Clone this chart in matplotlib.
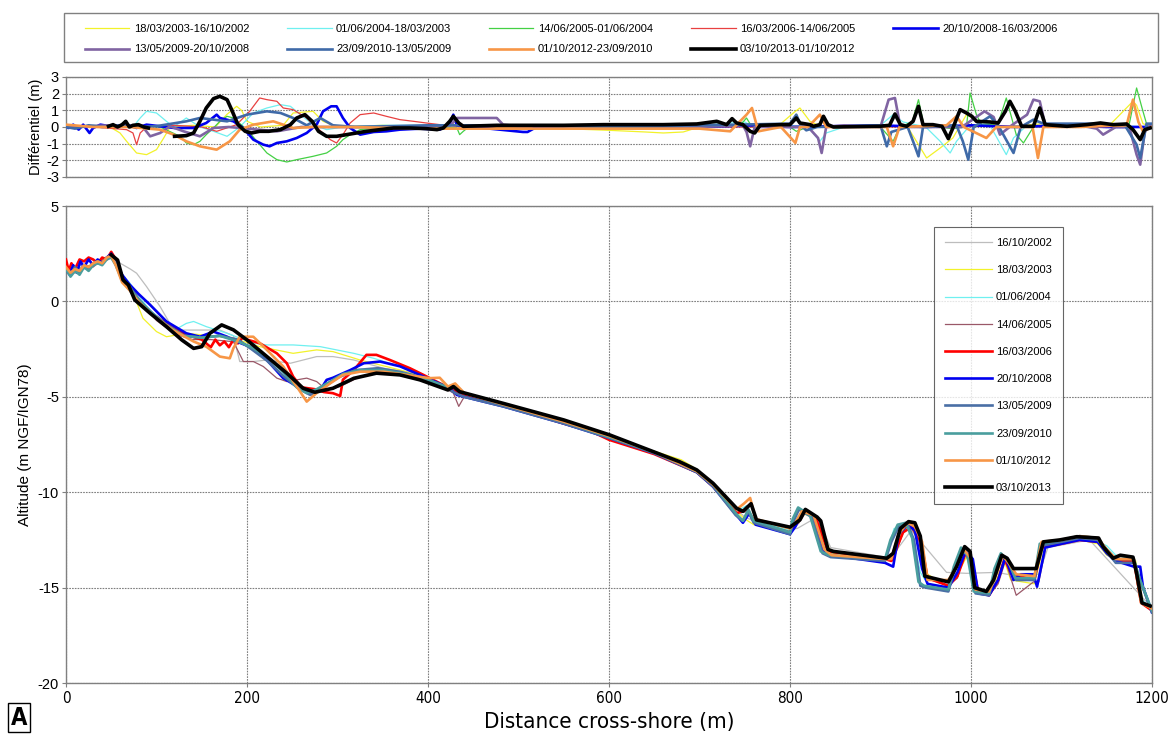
import matplotlib
matplotlib.use("Agg")
import matplotlib.pyplot as plt
from matplotlib.patches import Rectangle
import numpy as np

plt.rcParams["font.family"] = ["Liberation Sans", "DejaVu Sans"]
plt.rcParams["axes.unicode_minus"] = False
NARROW = dict(family="DejaVu Sans", stretch="condensed")
nan = np.nan

# ---------------- profiles (distance m, altitude m NGF/IGN78) ----------------
P2002_X = [0, 8, 16, 24, 32, 40, 50, 60, 71, 78, 89, 104, 119, 133, 148, 170, 185, 192, 207, 222, 248, 277, 295, 318, 351, 387, 422, 435, 483, 550, 600, 678, 697, 715, 741, 750, 760, 800, 808, 830, 845, 905, 912, 934, 973, 995, 1029, 1040, 1075, 1085, 1131, 1192, 1200]
P2002_Z = [1.8, 1.6, 1.9, 1.7, 2.0, 2.1, 2.4, 2.0, 1.7, 1.48, 0.78, -0.27, -1.5, -1.5, -1.5, -1.5, -1.8, -3.15, -3.15, -3.07, -3.24, -2.89, -2.89, -3.07, -3.5, -3.76, -4.46, -4.9, -5.45, -6.3, -7.05, -8.45, -8.9, -9.6, -10.9, -11.3, -11.5, -11.95, -11.9, -11.3, -12.9, -13.4, -13.4, -12.0, -14.2, -14.25, -14.2, -14.3, -14.3, -12.9, -12.5, -15.65, -16.0]

P2003_X = [0, 10, 20, 30, 40, 50, 58, 66, 76, 85, 100, 111, 133, 160, 185, 214, 251, 277, 295, 325, 369, 406, 425, 440, 483, 550, 600, 650, 680, 697, 715, 741, 750, 760, 800, 806, 812, 826, 838, 846, 905, 912, 925, 935, 944, 952, 975, 985, 995, 1000, 1008, 1020, 1030, 1036, 1044, 1070, 1080, 1098, 1120, 1140, 1150, 1160, 1182, 1190, 1200]
P2003_Z = [1.7, 1.5, 1.8, 1.9, 2.1, 2.4, 1.6, 1.2, 0.2, -0.88, -1.58, -1.85, -1.67, -1.8, -1.93, -2.37, -2.72, -2.54, -2.63, -3.07, -3.59, -4.11, -4.5, -4.8, -5.5, -6.35, -7.1, -7.85, -8.3, -8.8, -9.6, -11.0, -11.4, -11.7, -12.1, -11.6, -11.1, -11.3, -12.4, -13.2, -13.6, -13.4, -12.0, -11.7, -12.6, -14.3, -14.95, -14.3, -13.4, -14.1, -15.2, -15.3, -14.4, -13.5, -14.6, -14.8, -12.9, -12.6, -12.5, -12.7, -13.3, -13.5, -13.6, -15.8, -16.2]

P2004_X = [0, 10, 20, 30, 40, 50, 60, 70, 80, 100, 120, 133, 141, 155, 178, 207, 222, 251, 281, 318, 340, 369, 406, 425, 440, 483, 550, 600, 650, 697, 715, 741, 752, 760, 800, 808, 815, 828, 840, 905, 915, 928, 937, 944, 952, 975, 985, 994, 1000, 1008, 1020, 1030, 1037, 1045, 1070, 1080, 1100, 1120, 1140, 1150, 1160, 1180, 1188, 1200]
P2004_Z = [1.9, 1.6, 1.7, 2.0, 2.2, 2.4, 1.5, 1.0, 0.3, -0.9, -1.5, -1.15, -1.05, -1.32, -1.67, -2.19, -2.28, -2.28, -2.37, -2.72, -2.98, -3.41, -4.11, -4.5, -4.85, -5.45, -6.3, -7.1, -7.9, -8.85, -9.6, -11.0, -10.7, -11.5, -12.0, -11.3, -10.9, -11.2, -13.2, -13.6, -11.9, -11.8, -12.5, -14.2, -14.8, -15.0, -14.2, -13.0, -13.4, -15.2, -15.3, -14.5, -13.4, -14.2, -14.5, -12.8, -12.6, -12.5, -12.6, -12.8, -13.3, -13.5, -15.6, -16.1]

P2005_X = [0, 10, 20, 30, 40, 50, 60, 70, 80, 100, 120, 140, 160, 185, 196, 207, 218, 233, 244, 266, 277, 288, 303, 325, 350, 380, 410, 428, 434, 440, 483, 550, 600, 650, 697, 715, 741, 755, 762, 800, 810, 818, 830, 842, 905, 914, 925, 933, 942, 950, 975, 985, 993, 1000, 1008, 1020, 1030, 1038, 1050, 1069, 1075, 1083, 1100, 1120, 1140, 1150, 1160, 1180, 1188, 1200]
P2005_Z = [1.8, 1.5, 1.9, 1.8, 2.2, 2.4, 1.3, 0.9, 0.2, -1.0, -1.7, -2.0, -2.0, -2.11, -3.15, -3.15, -3.41, -4.02, -4.2, -4.02, -4.2, -4.64, -4.46, -3.94, -3.7, -3.9, -4.3, -4.8, -5.5, -5.0, -5.5, -6.35, -7.1, -7.9, -8.85, -9.6, -11.1, -11.0, -11.6, -12.1, -11.6, -11.0, -11.3, -13.1, -13.5, -13.6, -12.1, -11.8, -12.5, -14.5, -14.9, -14.5, -13.2, -13.8, -15.2, -15.4, -14.8, -13.6, -15.4, -14.7, -14.7, -12.8, -12.6, -12.5, -12.6, -13.0, -13.5, -13.6, -15.8, -16.2]

P2006_X = [0, 3, 6, 10, 15, 20, 25, 30, 35, 40, 45, 50, 55, 63, 70, 78, 90, 100, 115, 130, 150, 160, 165, 170, 175, 180, 185, 190, 195, 200, 214, 233, 244, 251, 260, 275, 285, 295, 303, 306, 318, 332, 343, 358, 380, 395, 413, 425, 430, 440, 483, 520, 550, 580, 600, 650, 697, 715, 741, 752, 762, 800, 806, 815, 828, 842, 905, 912, 925, 935, 945, 952, 975, 985, 994, 1001, 1008, 1020, 1030, 1037, 1045, 1070, 1078, 1100, 1120, 1140, 1150, 1160, 1180, 1188, 1200]
P2006_Z = [2.2, 1.6, 2.0, 1.7, 2.2, 2.1, 2.3, 2.2, 2.0, 2.3, 2.2, 2.6, 2.2, 1.2, 0.8, 0.2, -0.5, -0.8, -1.3, -1.7, -2.0, -2.4, -2.0, -2.3, -2.1, -2.4, -2.0, -2.2, -1.9, -2.0, -2.19, -2.72, -3.24, -3.94, -4.5, -4.6, -4.75, -4.81, -4.95, -4.1, -3.6, -2.8, -2.8, -3.07, -3.5, -3.85, -4.29, -4.6, -4.7, -4.9, -5.45, -5.95, -6.4, -6.8, -7.25, -8.0, -8.95, -9.7, -11.1, -10.9, -11.6, -12.1, -11.6, -11.0, -11.3, -13.1, -13.5, -13.6, -12.1, -11.8, -12.6, -14.5, -14.9, -14.4, -13.2, -13.6, -15.2, -15.4, -14.6, -13.5, -14.3, -14.6, -12.9, -12.7, -12.5, -12.6, -13.1, -13.6, -13.6, -15.8, -16.2]

P2008_X = [0, 4, 8, 12, 16, 20, 25, 30, 35, 40, 45, 50, 55, 62, 70, 80, 93, 111, 133, 148, 163, 178, 189, 203, 222, 240, 259, 273, 281, 288, 295, 314, 329, 347, 369, 391, 410, 425, 432, 440, 483, 550, 600, 650, 697, 715, 741, 748, 755, 762, 800, 806, 814, 826, 838, 846, 905, 914, 920, 930, 938, 946, 952, 975, 985, 994, 1002, 1008, 1020, 1030, 1038, 1047, 1055, 1069, 1073, 1082, 1100, 1120, 1140, 1150, 1160, 1180, 1187, 1190, 1200]
P2008_Z = [1.7, 1.4, 1.9, 1.5, 2.1, 1.8, 2.2, 1.9, 2.2, 2.0, 2.3, 2.5, 2.1, 1.4, 0.9, 0.4, -0.18, -1.05, -1.67, -1.85, -1.58, -1.85, -2.11, -2.37, -3.07, -4.02, -4.55, -4.81, -4.64, -4.11, -4.0, -3.6, -3.24, -3.15, -3.4, -3.85, -4.25, -4.6, -4.9, -5.0, -5.5, -6.4, -7.15, -7.95, -8.95, -9.7, -11.2, -11.6, -11.1, -11.7, -12.2, -11.8, -11.0, -11.3, -13.2, -13.3, -13.7, -13.9, -12.2, -11.7, -12.0, -14.0, -14.8, -15.0, -14.2, -13.1, -13.5, -15.3, -15.4, -14.6, -13.4, -14.6, -14.3, -14.3, -14.95, -12.9, -12.7, -12.5, -12.6, -13.2, -13.6, -13.9, -13.9, -14.95, -16.3]

P2009_X = [0, 5, 10, 15, 20, 25, 30, 35, 40, 45, 50, 55, 62, 70, 80, 95, 110, 130, 150, 170, 190, 205, 222, 240, 258, 270, 285, 300, 320, 345, 370, 395, 420, 430, 440, 483, 550, 600, 650, 697, 715, 740, 748, 754, 760, 800, 804, 810, 824, 836, 845, 905, 912, 920, 930, 937, 944, 950, 975, 982, 990, 998, 1005, 1020, 1027, 1034, 1042, 1050, 1070, 1077, 1100, 1120, 1140, 1150, 1160, 1180, 1186, 1200]
P2009_Z = [1.6, 1.4, 1.8, 1.5, 1.9, 1.7, 2.0, 2.1, 2.0, 2.3, 2.4, 2.0, 1.2, 0.8, 0.1, -0.6, -1.2, -1.8, -1.9, -1.8, -2.0, -2.5, -3.1, -3.9, -4.6, -4.9, -4.5, -4.0, -3.6, -3.5, -3.7, -4.0, -4.5, -4.8, -5.0, -5.5, -6.4, -7.15, -7.95, -8.95, -9.7, -11.2, -11.5, -11.0, -11.6, -12.2, -11.5, -10.9, -11.3, -13.2, -13.4, -13.6, -12.6, -11.8, -11.7, -12.5, -14.9, -15.0, -15.2, -14.0, -13.0, -13.4, -15.3, -15.4, -14.2, -13.3, -13.7, -14.6, -14.6, -12.8, -12.6, -12.4, -12.5, -13.1, -13.7, -13.7, -14.5, -16.3]

P2010_X = [0, 5, 10, 15, 20, 25, 30, 35, 40, 45, 50, 55, 62, 70, 80, 95, 110, 130, 150, 170, 190, 205, 222, 240, 255, 266, 277, 292, 306, 325, 350, 375, 400, 422, 430, 440, 483, 550, 600, 650, 697, 715, 740, 748, 754, 760, 800, 803, 809, 822, 834, 843, 905, 911, 919, 928, 935, 942, 948, 975, 981, 989, 996, 1003, 1020, 1026, 1033, 1041, 1049, 1070, 1076, 1100, 1120, 1140, 1150, 1160, 1180, 1186, 1200]
P2010_Z = [1.7, 1.3, 1.6, 1.4, 1.8, 1.6, 1.9, 2.0, 1.9, 2.2, 2.3, 1.9, 1.1, 0.7, 0.1, -0.6, -1.2, -1.8, -1.9, -1.8, -2.1, -2.4, -2.9, -3.7, -4.5, -4.8, -4.6, -4.2, -3.8, -3.6, -3.6, -3.8, -4.1, -4.5, -4.4, -4.8, -5.4, -6.3, -7.1, -7.9, -8.9, -9.6, -11.1, -11.5, -10.9, -11.5, -12.1, -11.4, -10.8, -11.2, -13.1, -13.3, -13.5, -12.5, -11.7, -11.6, -12.4, -14.7, -14.9, -15.1, -13.9, -12.9, -13.3, -15.2, -15.3, -14.0, -13.2, -13.6, -14.5, -14.5, -12.7, -12.5, -12.3, -12.4, -13.0, -13.5, -13.5, -14.5, -16.2]

P2012_X = [0, 5, 10, 15, 20, 25, 30, 35, 40, 45, 50, 55, 62, 70, 80, 95, 118, 141, 155, 170, 181, 185, 192, 207, 222, 240, 255, 266, 277, 292, 306, 325, 351, 376, 402, 413, 422, 430, 440, 483, 550, 600, 650, 697, 715, 741, 749, 756, 762, 800, 806, 813, 826, 838, 846, 905, 912, 920, 930, 938, 946, 952, 975, 983, 992, 999, 1005, 1020, 1028, 1035, 1043, 1050, 1070, 1078, 1100, 1120, 1140, 1150, 1160, 1180, 1188, 1200]
P2012_Z = [1.8, 1.5, 1.7, 1.6, 1.9, 1.8, 2.0, 2.1, 2.0, 2.3, 2.4, 1.9, 1.0, 0.6, 0.0, -0.7, -1.5, -2.1, -2.37, -2.89, -2.98, -2.45, -1.85, -1.85, -2.54, -3.41, -4.46, -5.25, -4.8, -4.29, -3.85, -3.68, -3.68, -3.85, -4.02, -4.0, -4.46, -4.3, -4.8, -5.4, -6.3, -7.05, -7.9, -8.9, -9.6, -10.9, -10.6, -10.3, -11.4, -11.9, -11.6, -11.0, -11.2, -13.0, -13.3, -13.5, -13.5, -12.2, -11.6, -11.8, -12.6, -14.6, -14.6, -14.0, -13.0, -13.4, -15.1, -15.2, -14.3, -13.3, -13.8, -14.3, -14.4, -12.6, -12.5, -12.3, -12.4, -13.0, -13.5, -13.5, -15.8, -16.1]

P2013_X = [50, 57, 63, 69, 76, 93, 111, 128, 141, 150, 159, 172, 185, 200, 222, 244, 262, 275, 295, 318, 343, 369, 391, 422, 428, 435, 483, 550, 601, 678, 697, 715, 741, 748, 757, 763, 800, 811, 817, 830, 834, 842, 848, 907, 914, 922, 931, 938, 944, 949, 975, 984, 993, 999, 1004, 1017, 1025, 1034, 1040, 1047, 1072, 1080, 1098, 1117, 1141, 1146, 1157, 1165, 1179, 1183, 1189, 1198]
P2013_Z = [2.44, 2.17, 1.13, 0.86, 0.08, -0.62, -1.32, -2.02, -2.46, -2.37, -1.67, -1.23, -1.49, -2.02, -2.89, -3.76, -4.55, -4.76, -4.55, -4.03, -3.76, -3.85, -4.11, -4.64, -4.46, -4.73, -5.34, -6.21, -7.0, -8.4, -8.83, -9.53, -10.84, -11.0, -10.6, -11.45, -11.83, -11.45, -10.9, -11.3, -11.5, -13.0, -13.1, -13.46, -13.2, -11.9, -11.54, -11.6, -12.3, -14.4, -14.7, -13.9, -12.85, -13.1, -15.0, -15.2, -14.6, -13.3, -13.46, -14.0, -14.0, -12.6, -12.5, -12.33, -12.4, -12.85, -13.46, -13.3, -13.4, -14.25, -15.8, -15.96]

SURVEYS = ["16/10/2002", "18/03/2003", "01/06/2004", "14/06/2005", "16/03/2006",
           "20/10/2008", "13/05/2009", "23/09/2010", "01/10/2012", "03/10/2013"]
PROFILES_X = [P2002_X, P2003_X, P2004_X, P2005_X, P2006_X, P2008_X, P2009_X, P2010_X, P2012_X, P2013_X]
PROFILES_Z = [P2002_Z, P2003_Z, P2004_Z, P2005_Z, P2006_Z, P2008_Z, P2009_Z, P2010_Z, P2012_Z, P2013_Z]
PROF_COLORS = ["#BDBDBD", "#F2F22A", "#6FF0F0", "#9A5868", "#FF0000",
               "#0000F0", "#4A6FA5", "#4A9E9E", "#F79646", "#000000"]
PROF_LW = [0.9, 0.9, 0.9, 0.9, 1.9, 1.9, 1.9, 1.9, 1.9, 2.6]

# ---------------- differentials (m) ----------------
D1_X = [0, 20, 48.6, 59.7, 67, 78, 89, 100, 108, 115, 140, 165, 177.5, 188.6, 194, 200, 215, 240, 251, 273, 284, 300, 350, 400, 450, 500, 550, 600, 640, 660, 682, 700, 750, 790, 805, 811, 822, 835, 880, 930, 951, 966, 980, 995, 1010, 1040, 1080, 1120, 1153, 1179, 1183, 1190, 1200]
D1_Z = [0.1, 0.0, 0.0, -0.36, -0.86, -1.56, -1.66, -1.36, -0.66, 0.0, 0.1, 0.0, 0.74, 1.24, 1.0, 0.34, 0.0, 0.1, 0.84, 0.94, 0.34, 0.0, 0.1, 0.0, -0.1, 0.0, -0.1, -0.2, -0.3, -0.36, -0.3, 0.0, 0.1, 0.2, 0.9, 1.14, 0.34, 0.0, 0.1, 0.0, -1.86, -1.26, -0.66, 0.74, 0.3, 0.0, 0.2, 0.1, 0.1, 1.54, 1.3, 0.2, 0.0]

D2_X = [0, 30, 60, 74, 82, 89, 100, 111, 119, 133, 148, 163, 178, 192, 207, 222, 237, 248, 259, 273, 288, 306, 350, 400, 500, 600, 700, 750, 760, 800, 820, 833, 840, 860, 900, 914, 925, 950, 966, 977, 984, 999, 1020, 1039, 1047, 1060, 1100, 1150, 1200]
D2_Z = [0.0, 0.1, 0.0, 0.0, 0.54, 0.94, 0.84, 0.34, 0.0, 0.54, 0.0, -0.26, -0.56, 0.0, 0.84, 1.14, 1.34, 1.24, 0.74, 0.14, -0.16, 0.0, 0.1, 0.1, 0.0, 0.0, 0.1, 0.3, 0.0, 0.1, 0.0, -0.86, -0.36, 0.0, 0.1, 0.74, 0.3, 0.0, -0.86, -1.56, -0.86, 0.1, 0.2, -1.66, -0.66, 0.0, 0.1, 0.1, 0.0]

D3_X = [0, 50, 104, 126, 133, 141, 148, 155, 163, 170, 178, 185, 200, 211, 222, 233, 244, 255, 273, 288, 299, 306, 314, 325, 343, 400, 432, 435, 439, 445, 500, 600, 700, 745, 752, 758, 800, 807, 820, 850, 900, 914, 921, 935, 942, 948, 980, 995, 999, 1006, 1012, 1030, 1039, 1050, 1058, 1069, 1100, 1150, 1175, 1183, 1189, 1195, 1200]
D3_Z = [0.0, 0.1, 0.0, -0.56, -0.96, -1.06, -0.86, -0.46, -0.06, 0.34, 0.64, 0.54, -0.16, -0.86, -1.56, -1.96, -2.1, -1.96, -1.76, -1.56, -1.16, -0.76, -0.46, -0.16, -0.06, 0.0, -0.06, -0.46, -0.26, 0.0, -0.1, -0.05, 0.0, 0.1, 0.54, 0.0, 0.0, -0.26, 0.0, 0.0, 0.0, -0.86, 0.0, 0.3, 1.64, 0.1, -0.1, 0.0, 2.04, 0.74, 0.1, 0.2, 1.74, -0.46, -0.96, 0.0, 0.1, 0.0, 0.2, 2.34, 1.14, 0.0, 0.0]

D4_X = [0, 30, 67, 74, 78, 82, 89, 120, 150, 166.5, 188.6, 203, 214, 222, 233, 240, 251, 266, 273, 284, 292, 299, 306, 314, 325, 340, 354, 369, 384, 398, 413, 440, 500, 600, 700, 800, 900, 1000, 1100, 1200]
D4_Z = [0.1, 0.0, -0.16, -0.36, -1.06, -0.36, 0.0, 0.1, 0.0, -0.26, 0.14, 0.94, 1.74, 1.64, 1.54, 1.14, 1.04, 0.54, 0.14, -0.36, -0.76, -0.96, -0.46, 0.24, 0.74, 0.84, 0.64, 0.44, 0.34, 0.24, 0.14, 0.0, 0.0, -0.05, 0.0, 0.0, 0.0, 0.05, 0.0, 0.0]

D5_X = [0, 3, 8, 14, 19, 26, 30, 38, 49, 67, 78, 89, 104, 120, 141, 155, 166.5, 170, 177.5, 185, 196, 207, 218, 225, 233, 244, 255, 266, 277, 284, 293, 299, 306, 314, 325, 340, 354, 369, 391, 413, 424, 428, 432, 450, 505, 510, 520, 600, 700, 760, 800, 900, 950, 1000, 1050, 1100, 1150, 1200]
D5_Z = [0.04, -0.06, 0.14, -0.16, 0.14, -0.36, -0.06, 0.14, 0.04, 0.14, -0.06, 0.14, 0.04, -0.06, -0.06, 0.24, 0.74, 0.54, 0.44, 0.34, -0.06, -0.76, -1.06, -1.16, -0.96, -0.86, -0.66, -0.36, 0.14, 0.94, 1.24, 1.24, 0.54, -0.06, -0.46, -0.3, -0.26, -0.16, -0.1, -0.16, 0.2, 0.74, 0.1, 0.0, -0.3, -0.3, 0.0, 0.05, 0.0, 0.1, 0.0, 0.1, 0.0, 0.1, 0.0, 0.1, 0.0, 0.0]

D6_X = [0, 50, 85, 93, 104, 115, 130, 148, 163, 180, 233, 260, 400, 425, 432, 476, 483, 500, 600, 700, 748, 752, 756, 761, 800, 820, 831, 835, 840, 860, 900, 909, 916, 922, 960, 990, 1015, 1025, 1032, 1045, 1062, 1069, 1076, 1082, 1120, 1139, 1146, 1160, 1175, 1183, 1187, 1192, 1198]
D6_Z = [0.0, 0.1, 0.0, -0.56, -0.36, 0.04, -0.26, -0.56, -0.06, 0.0, -0.26, 0.0, 0.0, 0.1, 0.54, 0.54, 0.14, 0.05, 0.0, 0.0, 0.1, -0.3, -1.16, 0.0, 0.0, 0.0, -0.66, -1.56, 0.0, 0.1, 0.0, 1.64, 1.74, 0.0, 0.0, 0.0, 0.94, 0.6, -0.46, 0.1, 0.74, 1.64, 1.54, 0.14, 0.1, -0.1, -0.46, 0.0, 0.0, -1.66, -2.26, -0.3, 0.1]

D7_X = [0, 10, 25, 40, 60, 80, 100, 133, 148, 163, 178, 200, 222, 237, 251, 266, 281, 295, 320, 400, 500, 600, 700, 800, 807, 812, 818, 830, 900, 907, 912, 930, 936, 942, 947, 980, 984, 991, 997, 1003, 1021, 1030, 1047, 1055, 1069, 1080, 1140, 1170, 1183, 1187, 1194, 1200]
D7_Z = [0.0, -0.1, 0.1, 0.0, 0.1, 0.0, 0.05, 0.34, 0.54, 0.44, 0.34, 0.74, 0.94, 0.84, 0.54, 0.1, 0.54, 0.1, 0.0, 0.1, 0.1, 0.0, 0.1, 0.2, 0.74, 0.1, -0.2, 0.0, 0.1, -1.16, -0.3, 0.0, -0.86, -1.76, 0.0, 0.1, 0.1, -0.86, -1.96, 0.0, 0.64, 0.1, -1.56, 0.0, 0.44, 0.2, 0.2, 0.1, -1.06, -1.86, 0.2, 0.2]

D8_X = [0, 30, 70, 104, 119, 133, 148, 166.5, 181, 192, 207, 229, 251, 273, 310, 400, 500, 600, 700, 734, 752, 758, 765, 790, 806, 811, 820, 833, 840, 907, 914, 921, 973, 984, 992, 1017, 1028, 1068, 1074, 1080, 1120, 1172, 1179, 1185, 1190, 1200]
D8_Z = [0.14, 0.0, 0.0, -0.16, -0.46, -0.86, -1.16, -1.36, -0.86, -0.16, 0.14, 0.34, -0.06, 0.0, 0.0, -0.1, -0.1, -0.1, -0.1, -0.26, 0.74, 1.14, -0.26, 0.0, -0.96, 0.0, 0.0, 0.74, 0.0, 0.0, -1.16, 0.0, 0.1, 0.64, 0.0, -0.66, 0.0, 0.0, -1.86, 0.0, 0.0, 0.1, 1.64, 0.3, -0.26, 0.0]

D9_X = [47, 52, 57, 62, 66, 70, 74, 80, 86, 91, nan, 120, 133, 141, 148, 155, 163, 170, 178, 183, 190, 198, 205, 214, 224, 237, 248, 255, 264, 272, 279, 288, 299, 310, 321, 332, 347, 362, 380, 398, 410, 417, 424, 428, 434, 439, 476, 550, 594, 660, 697, 719, 730, 736, 741, 748, 756, 761, 767, 789, 800, 807, 811, 822, 826, 833, 837, 842, 848, 899, 910, 916, 922, 929, 936, 942, 947, 958, 968, 975, 980, 988, 995, 1001, 1006, 1021, 1030, 1038, 1043, 1049, 1056, 1069, 1076, 1082, 1106, 1128, 1143, 1157, 1172, 1179, 1187, 1192, 1198]
D9_Z = [0.04, 0.14, 0.0, 0.14, 0.34, 0.0, 0.1, 0.14, 0.0, -0.06, nan, -0.56, -0.52, -0.36, 0.34, 1.14, 1.7, 1.84, 1.64, 1.04, 0.14, -0.26, -0.36, -0.26, -0.26, -0.16, 0.14, 0.54, 0.74, 0.34, -0.26, -0.56, -0.56, -0.46, -0.36, -0.26, -0.16, -0.06, -0.06, -0.1, -0.16, -0.06, 0.34, 0.64, 0.24, 0.04, 0.1, 0.1, 0.14, 0.14, 0.18, 0.34, 0.14, 0.5, 0.24, 0.14, -0.26, -0.36, 0.1, 0.14, 0.14, 0.54, 0.24, 0.14, 0.04, 0.14, 0.64, 0.14, 0.0, 0.04, 0.1, 0.78, 0.14, 0.04, 0.34, 1.24, 0.14, 0.14, 0.04, -0.7, -0.06, 1.04, 0.84, 0.64, 0.34, 0.3, 0.24, 0.94, 1.54, 0.94, 0.04, 0.04, 1.14, 0.14, 0.04, 0.14, 0.24, 0.14, 0.18, -0.16, -0.76, -0.16, -0.06]

DIFF_LABELS = ["18/03/2003-16/10/2002", "01/06/2004-18/03/2003", "14/06/2005-01/06/2004",
               "16/03/2006-14/06/2005", "20/10/2008-16/03/2006", "13/05/2009-20/10/2008",
               "23/09/2010-13/05/2009", "01/10/2012-23/09/2010", "03/10/2013-01/10/2012"]
DIFFS_X = [D1_X, D2_X, D3_X, D4_X, D5_X, D6_X, D7_X, D8_X, D9_X]
DIFFS_Z = [D1_Z, D2_Z, D3_Z, D4_Z, D5_Z, D6_Z, D7_Z, D8_Z, D9_Z]
DIFF_COLORS = ["#F2F22A", "#6FF0F0", "#44D044", "#E84040", "#0000F0",
               "#8064A2", "#3F6AA8", "#F79646", "#000000"]
DIFF_LW = [0.9, 0.9, 0.9, 0.9, 1.9, 1.9, 1.9, 1.9, 2.6]

GRID = dict(color="#7F7F7F", lw=0.8, ls=(0, (1.5, 1)))
SPINE = "#808080"

fig = plt.figure(figsize=(11.7, 7.43), dpi=100)
fig.patch.set_facecolor("white")
ax_d = fig.add_axes([0.0564, 0.7618, 0.9282, 0.1346])
ax = fig.add_axes([0.0564, 0.0807, 0.9282, 0.642])

# differential panel
diff_handles = []
for i in range(len(DIFFS_X)):
    h, = ax_d.plot(DIFFS_X[i], DIFFS_Z[i], color=DIFF_COLORS[i], lw=DIFF_LW[i],
                   zorder=3 + i, label=DIFF_LABELS[i])
    diff_handles.append(h)
ax_d.set_xlim(0, 1200)
ax_d.set_ylim(-3, 3)
ax_d.set_yticks([-3, -2, -1, 0, 1, 2, 3])
ax_d.set_xticks([200, 400, 600, 800, 1000])
ax_d.tick_params(axis="x", length=0, labelbottom=False)
ax_d.tick_params(axis="y", labelsize=10.5, length=3, color=SPINE, pad=2)
ax_d.grid(True, **GRID)
ax_d.set_ylabel("Différentiel (m)", fontsize=10.5, labelpad=2)

# profile panel
for i in range(len(PROFILES_X)):
    ax.plot(PROFILES_X[i], PROFILES_Z[i], color=PROF_COLORS[i], lw=PROF_LW[i],
            zorder=3 + i, label=SURVEYS[i])
ax.set_xlim(0, 1200)
ax.set_ylim(-20, 5)
ax.set_yticks([-20, -15, -10, -5, 0, 5])
ax.set_xticks([0, 200, 400, 600, 800, 1000, 1200])
ax.grid(True, **GRID)
ax.tick_params(axis="y", labelsize=10.5, length=3, color=SPINE, pad=2)
ax.tick_params(axis="x", labelsize=11, length=3, color=SPINE, pad=3)
for t in ax.get_xticklabels():
    t.set_family(NARROW["family"])
    t.set_stretch(NARROW["stretch"])
ax.set_ylabel("Altitude (m NGF/IGN78)", fontsize=11, labelpad=4)
ax.set_xlabel("Distance cross-shore (m)", fontsize=16, labelpad=4, **NARROW)

for a in (ax, ax_d):
    for s in a.spines.values():
        s.set_color(SPINE)
        s.set_linewidth(1.0)
    a.set_axisbelow(True)

leg = ax.legend(loc="upper left", bbox_to_anchor=(0.794, 0.968), fontsize=8,
                handlelength=4.2, labelspacing=1.55, borderpad=1.0, handletextpad=0.4,
                frameon=True, fancybox=False, edgecolor="#404040")
leg.get_frame().set_linewidth(0.8)

# legend of the differential series, framed box across the top
fig.patches.append(Rectangle((0.0547, 0.9166), 0.935, 0.066, transform=fig.transFigure,
                             facecolor="white", edgecolor="#808080", lw=1.0, zorder=0))
order = [0, 5, 1, 6, 2, 7, 3, 8, 4]
fig.legend([diff_handles[k] for k in order], [DIFF_LABELS[k] for k in order],
           loc="upper left", bbox_to_anchor=(0.0726, 0.9678), ncol=5, fontsize=8,
           handlelength=4.0, handletextpad=0.4, labelspacing=0.95, columnspacing=3.4,
           borderpad=0, borderaxespad=0, frameon=False)

fig.text(0.0094, 0.018, "A", fontsize=17, fontweight="bold", ha="left", va="bottom",
         bbox=dict(boxstyle="square,pad=0.12", facecolor="white", edgecolor="black", lw=1),
         **NARROW)

fig.savefig("out.png", dpi=100)
